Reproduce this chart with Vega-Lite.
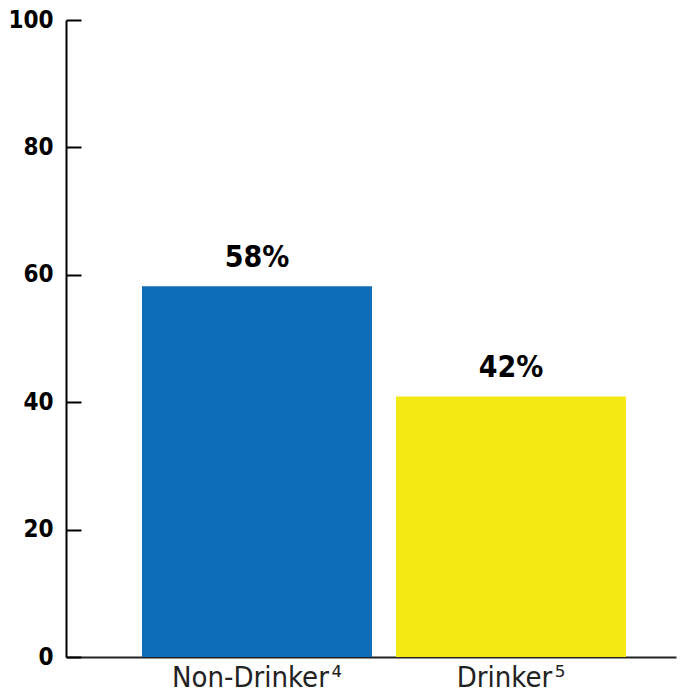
{
  "$schema": "https://vega.github.io/schema/vega-lite/v6.json",
  "autosize": "none",
  "width": 610,
  "height": 637,
  "padding": {"left": 66, "top": 20, "right": 4, "bottom": 39},
  "background": "white",
  "config": {"view": {"stroke": null}},
  "data": {"values": [
    {"group": "Non-Drinker\u200a⁴", "value": 58.2, "label": "58%", "color": "#0f6cb6"},
    {"group": "Drinker\u200a⁵", "value": 40.9, "label": "42%", "color": "#f5e914"}
  ]},
  "encoding": {
    "x": {"field": "group", "type": "nominal", "sort": null,
      "scale": {"paddingInner": 0.0945, "paddingOuter": 0.248, "align": 0.603},
      "axis": {"title": null, "ticks": false, "labelAngle": 0, "domainColor": "#222", "domainWidth": 2,
        "labelFont": "DejaVu Sans Condensed", "labelFontSize": 29, "labelColor": "#222", "labelFontWeight": 200,
        "labelPadding": 6, "labelBaseline": "top", "labelLimit": 0}},
    "y": {"field": "value", "type": "quantitative",
      "scale": {"domain": [0, 100], "nice": false},
      "axis": {"title": null, "values": [0, 20, 40, 60, 80, 100], "grid": false,
        "domainColor": "black", "domainWidth": 2, "tickColor": "black", "tickWidth": 2, "tickSize": -15,
        "labelPadding": 28, "labelFont": "DejaVu Sans Condensed", "labelFontWeight": "bold",
        "labelFontSize": 24, "labelColor": "black"}}
  },
  "layer": [
    {"mark": {"type": "bar"}, "encoding": {"color": {"field": "color", "type": "nominal", "scale": null, "legend": null}}},
    {"mark": {"type": "text", "dy": -19, "baseline": "alphabetic", "font": "DejaVu Sans Condensed", "fontWeight": "bold", "fontSize": 30, "color": "black"},
     "encoding": {"text": {"field": "label"}}}
  ]
}
